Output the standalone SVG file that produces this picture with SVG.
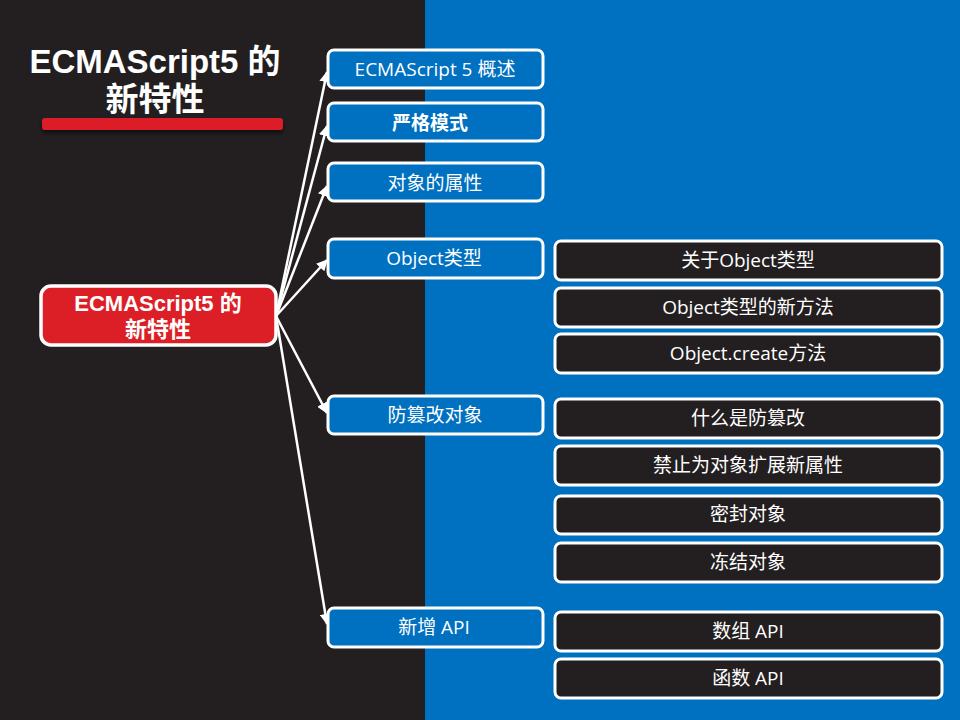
<svg xmlns="http://www.w3.org/2000/svg" width="960" height="720" viewBox="0 0 960 720">
<defs>
<style>
.bg-dark{fill:#231f20}
.bg-blue{fill:#0070c0}
.blue{fill:#0070c0;stroke:#fff;stroke-width:3}
.dark{fill:#231f20;stroke:#fff;stroke-width:3}
.root{fill:#dc1f26;stroke:#fff;stroke-width:3.5}
text{font-family:"Open Sans","Noto Sans CJK SC",sans-serif;fill:#fff;text-anchor:middle}
.t{font-size:19px}
.b{font-weight:bold}
.title{font-family:"Liberation Sans","Noto Sans CJK SC",sans-serif;font-size:33px;font-weight:bold}
.rt{font-family:"Liberation Sans","Noto Sans CJK SC",sans-serif;font-size:22px;font-weight:bold}
.edge{stroke:#fff;stroke-width:2.5;fill:none;marker-end:url(#ah)}
</style>
<marker id="ah" viewBox="0 0 10 10" refX="9" refY="5" markerWidth="4.5" markerHeight="4.5" orient="auto" markerUnits="strokeWidth">
<path d="M0,0 L10,5 L0,10 z" fill="#fff"/>
</marker>
<filter id="sh" x="-10%" y="-50%" width="120%" height="250%">
<feDropShadow dx="0" dy="3" stdDeviation="2" flood-color="#000" flood-opacity="0.6"/>
</filter>
</defs>
<rect class="bg-dark" x="0" y="0" width="425" height="720"/>
<rect class="bg-blue" x="425" y="0" width="535" height="720"/>

<g id="title">
<text class="title" x="155" y="73">ECMAScript5 的</text>
<text class="title" x="155" y="111">新特性</text>
<rect x="42" y="118" width="241" height="12" rx="3" fill="#dc1f26" filter="url(#sh)"/>
</g>

<g id="connectors">
<line class="edge" x1="276" y1="316" x2="327" y2="72"/>
<line class="edge" x1="276" y1="316" x2="327" y2="126"/>
<line class="edge" x1="276" y1="316" x2="327" y2="186"/>
<line class="edge" x1="276" y1="316" x2="327" y2="260"/>
<line class="edge" x1="276" y1="316" x2="327" y2="413"/>
<line class="edge" x1="276" y1="316" x2="327" y2="624"/>
</g>

<g id="root">
<rect class="root" x="41" y="286" width="235" height="59" rx="10"/>
<text class="rt" x="158" y="311">ECMAScript5 的</text>
<text class="rt" x="158" y="337">新特性</text>
</g>

<g id="n1"><rect class="blue" x="328" y="50" width="215" height="38" rx="6"/><text class="t" x="435" y="76">ECMAScript 5 概述</text></g>
<g id="n2"><rect class="blue" x="328" y="103" width="215" height="38" rx="6"/><text class="t b" x="430" y="130">严格模式</text></g>
<g id="n3"><rect class="blue" x="328" y="163" width="215" height="38" rx="6"/><text class="t" x="435" y="190">对象的属性</text></g>
<g id="n4"><rect class="blue" x="328" y="239" width="215" height="39" rx="6"/><text class="t" x="434" y="265">Object类型</text></g>
<g id="n5"><rect class="blue" x="328" y="396" width="215" height="38" rx="6"/><text class="t" x="435" y="422">防篡改对象</text></g>
<g id="n6"><rect class="blue" x="328" y="608" width="215" height="39" rx="6"/><text class="t" x="434" y="634">新增 API</text></g>

<g id="c1"><rect class="dark" x="555" y="241" width="387" height="39" rx="6"/><text class="t" x="748" y="267">关于Object类型</text></g>
<g id="c2"><rect class="dark" x="555" y="288" width="387" height="39" rx="6"/><text class="t" x="748" y="314">Object类型的新方法</text></g>
<g id="c3"><rect class="dark" x="555" y="334" width="387" height="39" rx="6"/><text class="t" x="748" y="360">Object.create方法</text></g>
<g id="c4"><rect class="dark" x="555" y="399" width="387" height="39" rx="6"/><text class="t" x="748" y="425">什么是防篡改</text></g>
<g id="c5"><rect class="dark" x="555" y="446" width="387" height="39" rx="6"/><text class="t" x="748" y="472">禁止为对象扩展新属性</text></g>
<g id="c6"><rect class="dark" x="555" y="496" width="387" height="38" rx="6"/><text class="t" x="748" y="521">密封对象</text></g>
<g id="c7"><rect class="dark" x="555" y="543" width="387" height="39" rx="6"/><text class="t" x="748" y="569">冻结对象</text></g>
<g id="c8"><rect class="dark" x="555" y="612" width="387" height="39" rx="6"/><text class="t" x="748" y="638">数组 API</text></g>
<g id="c9"><rect class="dark" x="555" y="659" width="387" height="39" rx="6"/><text class="t" x="748" y="685">函数 API</text></g>
</svg>
